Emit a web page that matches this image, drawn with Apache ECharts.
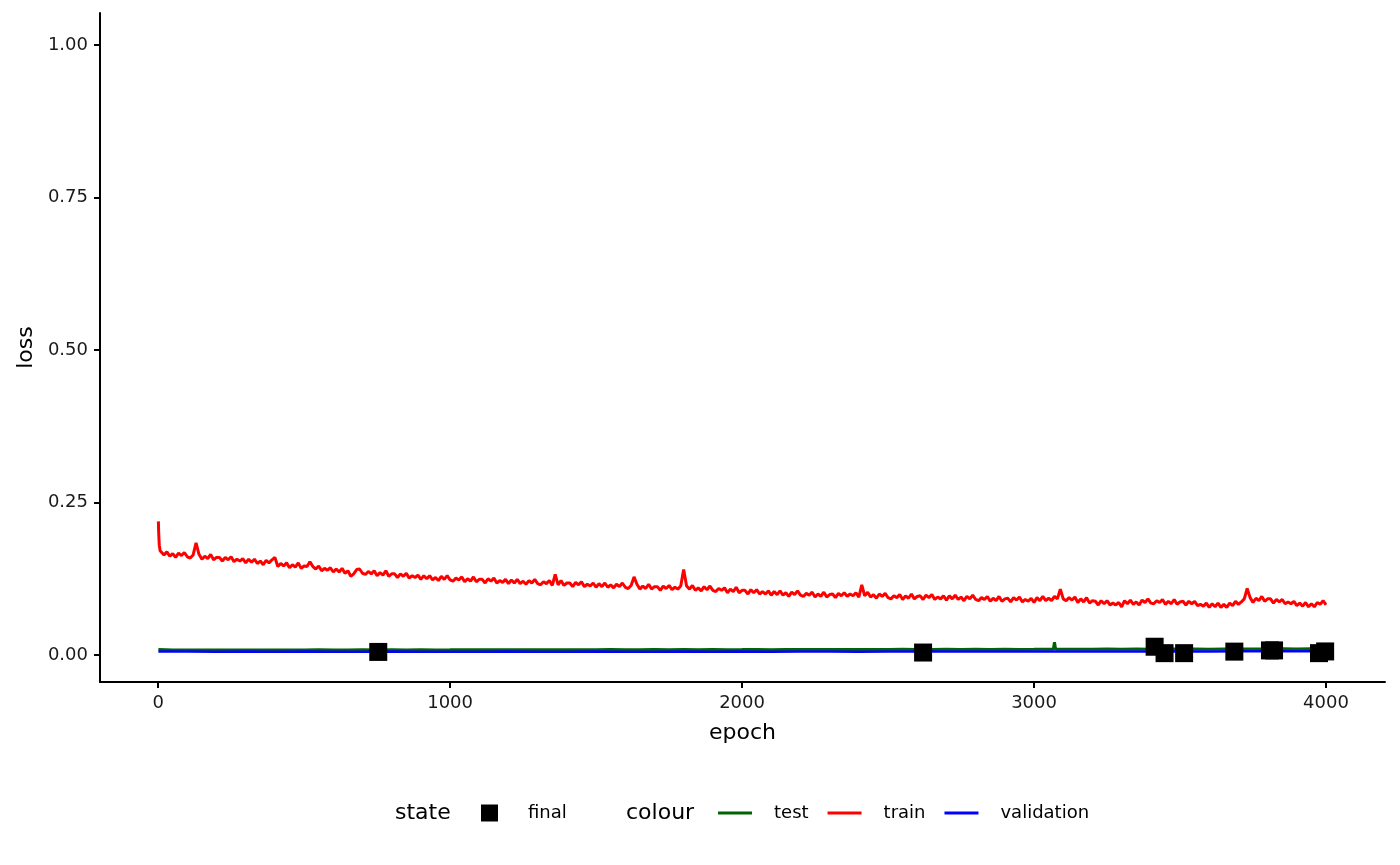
<!DOCTYPE html>
<html>
<head>
<meta charset="utf-8">
<script src="https://cdn.jsdelivr.net/npm/echarts@6/dist/echarts.min.js"></script>
<style>
html,body{margin:0;padding:0;background:#fff;}
#chart{width:1400px;height:865px;}
</style>
</head>
<body>
<div id="chart"></div>
<script>
// ---------------- data ----------------
const xTicks = [0, 1000, 2000, 3000, 4000];
const yTicks = [0, 0.25, 0.5, 0.75, 1.0];

// train loss: first epochs, then every 10 epochs from 10 to 4000
const trainHeadEpochs = [1, 2, 4, 7];
const trainHeadLoss = [0.219, 0.200, 0.180, 0.171];
const trainStep = 10;
const trainLoss = [
0.169,0.164,0.169,0.162,0.166,0.160,0.167,0.163,0.168,0.161,
0.159,0.164,0.184,0.165,0.157,0.162,0.158,0.165,0.156,0.160,
0.160,0.154,0.160,0.156,0.161,0.153,0.157,0.154,0.158,0.151,
0.157,0.152,0.157,0.150,0.154,0.148,0.155,0.151,0.156,0.160,
0.145,0.150,0.146,0.151,0.143,0.148,0.144,0.151,0.142,0.146,
0.145,0.153,0.145,0.141,0.146,0.138,0.142,0.139,0.143,0.136,
0.141,0.136,0.142,0.134,0.138,0.129,0.133,0.140,0.141,0.134,
0.132,0.137,0.133,0.138,0.130,0.135,0.131,0.138,0.129,0.133,
0.133,0.127,0.133,0.129,0.134,0.126,0.130,0.127,0.131,0.124,
0.130,0.125,0.130,0.123,0.127,0.122,0.129,0.124,0.130,0.123,
0.121,0.126,0.123,0.128,0.120,0.125,0.121,0.128,0.120,0.124,
0.124,0.118,0.125,0.121,0.126,0.118,0.122,0.119,0.124,0.117,
0.123,0.118,0.124,0.117,0.121,0.116,0.122,0.118,0.124,0.117,
0.115,0.120,0.117,0.122,0.114,0.132,0.115,0.122,0.114,0.118,
0.118,0.112,0.119,0.115,0.120,0.112,0.116,0.113,0.118,0.111,
0.117,0.112,0.118,0.111,0.115,0.110,0.116,0.112,0.118,0.111,
0.109,0.114,0.128,0.116,0.108,0.113,0.109,0.116,0.108,0.112,
0.112,0.106,0.113,0.109,0.114,0.107,0.111,0.108,0.113,0.140,
0.113,0.108,0.114,0.106,0.110,0.105,0.112,0.107,0.113,0.106,
0.104,0.109,0.106,0.110,0.102,0.108,0.104,0.111,0.102,0.106,
0.106,0.100,0.107,0.102,0.107,0.100,0.104,0.100,0.105,0.098,
0.104,0.099,0.105,0.098,0.102,0.096,0.103,0.099,0.105,0.098,
0.096,0.101,0.098,0.103,0.095,0.100,0.096,0.103,0.095,0.099,
0.100,0.094,0.101,0.097,0.102,0.096,0.100,0.097,0.102,0.095,
0.115,0.097,0.103,0.095,0.099,0.093,0.100,0.096,0.101,0.094,
0.092,0.097,0.094,0.099,0.091,0.097,0.093,0.100,0.092,0.096,
0.097,0.091,0.098,0.094,0.099,0.091,0.095,0.092,0.097,0.090,
0.097,0.092,0.098,0.091,0.095,0.089,0.096,0.092,0.098,0.091,
0.089,0.094,0.091,0.096,0.088,0.093,0.089,0.096,0.088,0.092,
0.093,0.087,0.094,0.090,0.095,0.087,0.091,0.088,0.093,0.086,
0.094,0.089,0.096,0.089,0.093,0.089,0.096,0.092,0.108,0.092,
0.089,0.094,0.090,0.095,0.086,0.092,0.087,0.094,0.085,0.089,
0.088,0.082,0.089,0.084,0.089,0.082,0.085,0.082,0.086,0.079,
0.089,0.084,0.090,0.083,0.087,0.082,0.090,0.086,0.092,0.085,
0.084,0.089,0.086,0.091,0.083,0.088,0.084,0.091,0.083,0.087,
0.088,0.082,0.088,0.084,0.088,0.081,0.083,0.080,0.085,0.078,
0.084,0.079,0.085,0.078,0.083,0.078,0.085,0.081,0.088,0.083,
0.087,0.092,0.109,0.094,0.086,0.093,0.089,0.096,0.088,0.092,
0.092,0.085,0.091,0.087,0.091,0.084,0.087,0.084,0.088,0.081,
0.085,0.080,0.086,0.079,0.084,0.079,0.086,0.083,0.089,0.082
];

// test loss: epoch 1, then every 50 epochs up to 4000, plus a spike near 3070
const testStep = 50;
const testLoss = [
0.0088,
0.0081,0.0082,0.0080,0.0082,0.0081,0.0083,0.0081,0.0082,0.0083,
0.0082,0.0084,0.0082,0.0083,0.0085,0.0082,0.0084,0.0083,0.0085,0.0083,
0.0084,0.0086,0.0084,0.0085,0.0087,0.0084,0.0086,0.0085,0.0087,0.0085,
0.0086,0.0088,0.0086,0.0087,0.0089,0.0086,0.0088,0.0087,0.0089,0.0087,
0.0088,0.0090,0.0087,0.0089,0.0091,0.0088,0.0090,0.0089,0.0091,0.0089,
0.0090,0.0092,0.0089,0.0091,0.0093,0.0090,0.0092,0.0091,0.0093,0.0091,
0.0092,0.0094,0.0093,0.0095,0.0092,0.0096,0.0094,0.0097,0.0095,0.0097,
0.0096,0.0098,0.0095,0.0099,0.0097,0.0100,0.0098,0.0101,0.0099,0.0102,
0.0100
];
const testSpikeEpochs = [3066, 3070, 3074];
const testSpikeLoss = [0.0094, 0.0210, 0.0094];

// validation loss: epoch 1, then every 100 epochs
const valStep = 100;
const valLoss = [
0.0056,0.0055,0.0054,0.0055,0.0054,0.0055,0.0053,0.0054,0.0055,0.0054,0.0053,
0.0054,0.0055,0.0053,0.0054,0.0055,0.0054,0.0053,0.0055,0.0054,0.0055,
0.0054,0.0055,0.0056,0.0054,0.0055,0.0056,0.0055,0.0057,0.0056,0.0057,
0.0058,0.0057,0.0059,0.0058,0.0060,0.0059,0.0061,0.0060,0.0062,0.0061
];

// final states
const finalEpochs = [754, 2620, 3413, 3447, 3514, 3686, 3808, 3822, 3976, 3997];
const finalLoss = [0.005, 0.004, 0.0135, 0.003, 0.003, 0.0055, 0.0075, 0.0075, 0.003, 0.0058];

// ---------------- build series data ----------------
const trainData = trainHeadEpochs.map((e, i) => [e, trainHeadLoss[i]])
  .concat(trainLoss.map((v, i) => [(i + 1) * trainStep, v]));

let testData = testLoss.map((v, i) => [i === 0 ? 1 : i * testStep, v])
  .concat(testSpikeEpochs.map((e, i) => [e, testSpikeLoss[i]]));
testData.sort((a, b) => a[0] - b[0]);

const valData = valLoss.map((v, i) => [i === 0 ? 1 : i * valStep, v]);
const finalData = finalEpochs.map((e, i) => [e, finalLoss[i]]);

const FONT = 'DejaVu Sans';
const chart = echarts.init(document.getElementById('chart'), null, {renderer: 'canvas'});

const linePath = 'path://M0,0 L34,0 L34,3 L0,3 Z';

chart.setOption({
  animation: false,
  backgroundColor: '#ffffff',
  textStyle: {fontFamily: FONT},
  grid: {left: 100, right: 15, top: 13, bottom: 183, containLabel: false},
  xAxis: {
    type: 'value',
    min: -199, max: 4202,
    name: 'epoch',
    nameLocation: 'middle',
    nameGap: 40,
    nameTextStyle: {fontFamily: FONT, fontSize: 22, color: '#000'},
    axisLine: {show: true, onZero: false, lineStyle: {color: '#000', width: 2}},
    axisTick: {show: true, length: 6, lineStyle: {color: '#000', width: 2}, customValues: xTicks},
    axisLabel: {show: true, margin: 12, fontFamily: FONT, fontSize: 18, color: '#1a1a1a',
      customValues: xTicks, formatter: v => String(v)},
    splitLine: {show: false}
  },
  yAxis: {
    type: 'value',
    min: -0.0443, max: 1.0525,
    name: 'loss',
    nameLocation: 'middle',
    nameGap: 62,
    nameTextStyle: {fontFamily: FONT, fontSize: 22, color: '#000'},
    axisLine: {show: true, onZero: false, lineStyle: {color: '#000', width: 2}},
    axisTick: {show: true, length: 6, lineStyle: {color: '#000', width: 2}, customValues: yTicks},
    axisLabel: {show: true, margin: 12, fontFamily: FONT, fontSize: 18, color: '#1a1a1a',
      customValues: yTicks, formatter: v => v.toFixed(2)},
    splitLine: {show: false}
  },
  legend: [
    {
      data: [{name: 'final', icon: 'rect'}],
      left: 476, top: 799,
      itemWidth: 17, itemHeight: 17,
      selectedMode: false,
      textStyle: {fontFamily: FONT, fontSize: 18, color: '#000', padding: [0, 0, 0, 25], lineHeight: 18}
    },
    {
      data: [
        {name: 'test', icon: linePath},
        {name: 'train', icon: linePath},
        {name: 'validation', icon: linePath}
      ],
      left: 713, top: 799,
      itemWidth: 34, itemHeight: 3, itemGap: 19,
      selectedMode: false,
      textStyle: {fontFamily: FONT, fontSize: 18, color: '#000', padding: [0, 0, 0, 17], lineHeight: 18}
    }
  ],
  graphic: [
    {type: 'text', left: 395, top: 802, style: {text: 'state', fontFamily: FONT, fontSize: 22, fill: '#000'}},
    {type: 'text', left: 626, top: 802, style: {text: 'colour', fontFamily: FONT, fontSize: 22, fill: '#000'}}
  ],
  series: [
    {name: 'test', type: 'line', data: testData, symbol: 'none', showSymbol: false,
      lineStyle: {color: '#006400', width: 3}, itemStyle: {color: '#006400'}, z: 2},
    {name: 'train', type: 'line', data: trainData, symbol: 'none', showSymbol: false,
      lineStyle: {color: '#FF0000', width: 3}, itemStyle: {color: '#FF0000'}, z: 2},
    {name: 'validation', type: 'line', data: valData, symbol: 'none', showSymbol: false,
      lineStyle: {color: '#0000FF', width: 2.5}, itemStyle: {color: '#0000FF'}, z: 3},
    {name: 'final', type: 'scatter', data: finalData, symbol: 'rect', symbolSize: 18,
      itemStyle: {color: '#000', opacity: 1}, z: 5}
  ]
});
</script>
</body>
</html>
